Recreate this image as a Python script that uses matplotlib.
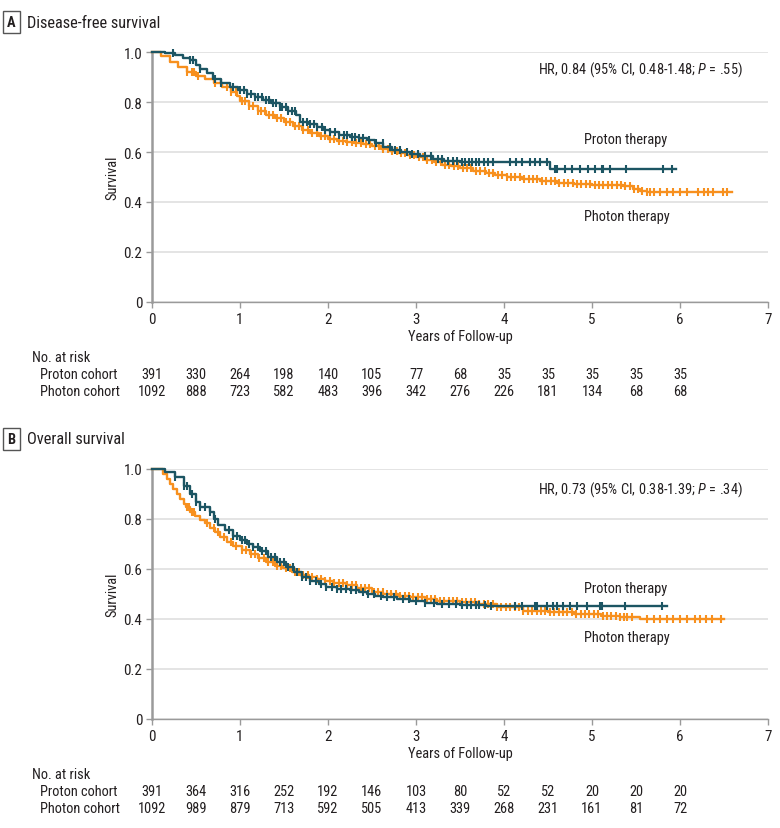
import numpy as np
import matplotlib
matplotlib.use("Agg")
import matplotlib.pyplot as plt
import matplotlib.font_manager as fm
from matplotlib import transforms

# ---------------- font choice (prefer a narrow sans) ----------------
_fonts = fm.fontManager.ttflist
_names = {f.name for f in _fonts}


def _is_cond(f):
    st = f.stretch
    if isinstance(st, (int, float)):
        return st < 500
    return str(st) in ('condensed', 'semi-condensed', 'extra-condensed', 'ultra-condensed')


FAMILY = None
STRETCH = 'normal'
SCALE = 1.0
for cand in ['Liberation Sans Narrow', 'Roboto Condensed', 'Open Sans Condensed',
             'Noto Sans Condensed', 'Arial Narrow', 'DejaVu Sans Condensed']:
    if cand in _names:
        FAMILY = cand
        break
if FAMILY is None:
    for cand in ['Noto Sans', 'Open Sans', 'Roboto', 'DejaVu Sans', 'Lato', 'Inter']:
        if any(f.name == cand and _is_cond(f) for f in _fonts):
            FAMILY = cand
            STRETCH = 'condensed'
            break
if FAMILY is None:
    FAMILY = 'Roboto' if 'Roboto' in _names else 'DejaVu Sans'
    SCALE = 0.9

plt.rcParams['font.family'] = [FAMILY, 'DejaVu Sans']
plt.rcParams['font.stretch'] = STRETCH
plt.rcParams['mathtext.fontset'] = 'custom'
plt.rcParams['mathtext.it'] = FAMILY + ':italic'
plt.rcParams['mathtext.rm'] = FAMILY

# ---------------- data ----------------
# Panel A: disease-free survival
t_proton_A = [0, 0.10, 0.15, 0.26, 0.35, 0.43, 0.50, 0.55, 0.62, 0.69, 0.78, 0.89, 0.98, 1.08, 1.17,
              1.26, 1.35, 1.45, 1.55, 1.64, 1.68, 1.78, 1.87, 1.95, 2.02, 2.12, 2.25, 2.35, 2.44, 2.53,
              2.63, 2.73, 2.83, 2.93, 3.05, 3.19, 3.32, 3.50, 3.70, 4.52, 5.96]
s_proton_A = [1.0, 1.0, 0.995, 0.987, 0.978, 0.967, 0.950, 0.933, 0.915, 0.893, 0.875, 0.860, 0.848, 0.833,
              0.822, 0.808, 0.795, 0.780, 0.765, 0.750, 0.722, 0.712, 0.700, 0.690, 0.680, 0.668, 0.660,
              0.655, 0.648, 0.635, 0.622, 0.610, 0.600, 0.593, 0.583, 0.573, 0.566, 0.560, 0.559, 0.532, 0.532]
c_proton_A = [0.24, 0.43, 0.47, 0.55, 0.72, 0.78, 0.92, 1.0, 1.04, 1.08, 1.12, 1.17, 1.2, 1.25, 1.3, 1.33,
              1.37, 1.41, 1.45, 1.48, 1.52, 1.55, 1.59, 1.62, 1.72, 1.76, 1.8, 1.84, 1.88, 1.93, 1.97,
              2.02, 2.08, 2.13, 2.18, 2.22, 2.27, 2.31, 2.35, 2.4, 2.47, 2.55, 2.62, 2.7, 2.76, 2.82, 2.9,
              2.95, 3.02, 3.1, 3.17, 3.25, 3.3, 3.36, 3.42, 3.47, 3.52, 3.56, 3.6, 3.64, 3.68, 3.72, 3.77,
              3.82, 3.88, 4.07, 4.14, 4.20, 4.30, 4.35, 4.41, 4.49, 4.58, 4.60, 4.69, 4.77, 4.86, 4.96,
              5.03, 5.11, 5.13, 5.20, 5.39, 5.81, 5.91]

t_photon_A = [0, 0.05, 0.10, 0.20, 0.30, 0.40, 0.50, 0.60, 0.70, 0.80, 0.90, 0.97, 1.00, 1.10, 1.20, 1.30,
              1.40, 1.50, 1.60, 1.70, 1.80, 1.90, 2.00, 2.10, 2.20, 2.30, 2.40, 2.50, 2.60, 2.70, 2.80,
              2.90, 3.00, 3.10, 3.20, 3.30, 3.40, 3.50, 3.65, 3.80, 3.90, 4.03, 4.20, 4.41, 4.60, 4.79,
              5.00, 5.17, 5.35, 5.47, 5.55, 5.62, 6.59]
s_photon_A = [1.0, 1.0, 0.985, 0.960, 0.940, 0.920, 0.905, 0.893, 0.878, 0.860, 0.840, 0.825, 0.805, 0.785,
              0.765, 0.750, 0.735, 0.722, 0.703, 0.690, 0.675, 0.665, 0.652, 0.645, 0.640, 0.635, 0.632,
              0.625, 0.612, 0.603, 0.595, 0.587, 0.579, 0.570, 0.562, 0.550, 0.543, 0.535, 0.525, 0.515,
              0.508, 0.499, 0.492, 0.485, 0.478, 0.472, 0.470, 0.468, 0.465, 0.452, 0.445, 0.439, 0.439]
c_photon_A = [0.40, 0.45, 0.48, 0.52, 0.72, 0.78, 0.85, 0.9, 0.95, 1.02, 1.06, 1.1, 1.15, 1.2, 1.24, 1.28,
              1.33, 1.38, 1.42, 1.47, 1.52, 1.57, 1.62, 1.67, 1.72, 1.77, 1.82, 1.87, 1.92, 1.97, 2.02,
              2.07, 2.12, 2.17, 2.22, 2.27, 2.32, 2.38, 2.43, 2.48, 2.53, 2.58, 2.63, 2.68, 2.73, 2.78,
              2.83, 2.88, 2.93, 2.98, 3.03, 3.08, 3.13, 3.18, 3.23, 3.28, 3.33, 3.38, 3.43, 3.48, 3.53,
              3.58, 3.63, 3.68, 3.73, 3.78, 3.83, 3.88, 3.93, 3.98, 4.03, 4.08, 4.13, 4.18, 4.23, 4.28,
              4.33, 4.38, 4.43, 4.48, 4.53, 4.58, 4.63, 4.68, 4.73, 4.78, 4.83, 4.88, 4.93, 4.98, 5.03,
              5.08, 5.13, 5.18, 5.23, 5.28, 5.33, 5.38, 5.43, 5.48, 5.52, 5.57, 5.62, 5.66, 5.70, 5.77,
              5.85, 5.92, 6.0, 6.08, 6.21, 6.27, 6.32, 6.38, 6.49, 6.53]

# Panel B: overall survival
t_proton_B = [0, 0.08, 0.15, 0.26, 0.36, 0.43, 0.50, 0.55, 0.66, 0.70, 0.75, 0.83, 0.92, 1.00, 1.08, 1.15,
              1.23, 1.32, 1.42, 1.52, 1.61, 1.70, 1.80, 1.90, 1.98, 2.10, 2.25, 2.35, 2.44, 2.53, 2.63,
              2.78, 2.93, 3.10, 3.24, 3.50, 3.80, 5.85]
s_proton_B = [1.0, 1.0, 0.987, 0.967, 0.933, 0.900, 0.870, 0.850, 0.830, 0.800, 0.778, 0.755, 0.733, 0.718,
              0.700, 0.688, 0.673, 0.650, 0.627, 0.607, 0.587, 0.570, 0.553, 0.540, 0.527, 0.522, 0.516,
              0.508, 0.500, 0.494, 0.487, 0.480, 0.473, 0.466, 0.460, 0.456, 0.453, 0.453]
c_proton_B = [0.26, 0.36, 0.4, 0.45, 0.5, 0.55, 0.6, 0.66, 0.72, 0.88, 0.92, 0.97, 1.02, 1.06, 1.1, 1.15,
              1.2, 1.25, 1.3, 1.35, 1.4, 1.45, 1.5, 1.55, 1.6, 1.65, 1.7, 1.75, 1.8, 1.86, 1.92, 1.98,
              2.05, 2.1, 2.15, 2.2, 2.26, 2.32, 2.4, 2.46, 2.52, 2.6, 2.67, 2.75, 2.85, 2.92, 3.0, 3.1,
              3.2, 3.3, 3.38, 3.45, 3.52, 3.58, 3.62, 3.68, 3.72, 3.78, 3.85, 4.125, 4.20, 4.35, 4.37,
              4.49, 4.56, 4.60, 4.67, 4.75, 4.83, 4.94, 5.09, 5.11, 5.375, 5.79]

t_photon_B = [0, 0.07, 0.13, 0.17, 0.20, 0.24, 0.28, 0.32, 0.36, 0.39, 0.43, 0.49, 0.55, 0.60, 0.66, 0.72,
              0.77, 0.85, 0.92, 1.02, 1.11, 1.20, 1.30, 1.40, 1.49, 1.59, 1.68, 1.78, 1.87, 1.97, 2.06,
              2.20, 2.33, 2.50, 2.63, 2.80, 2.93, 3.10, 3.24, 3.50, 3.70, 3.92, 4.22, 4.50, 4.79, 5.10,
              5.32, 5.55, 6.50]
s_photon_B = [1.0, 1.0, 0.980, 0.960, 0.940, 0.920, 0.900, 0.880, 0.860, 0.847, 0.830, 0.813, 0.795, 0.783,
              0.765, 0.747, 0.727, 0.707, 0.693, 0.676, 0.660, 0.643, 0.630, 0.613, 0.603, 0.587, 0.578,
              0.567, 0.562, 0.551, 0.545, 0.535, 0.525, 0.510, 0.500, 0.493, 0.487, 0.480, 0.473, 0.467,
              0.462, 0.447, 0.433, 0.427, 0.420, 0.413, 0.407, 0.400, 0.400]
c_photon_B = [0.40, 0.42, 0.45, 0.48, 0.62, 0.70, 0.75, 0.82, 0.9, 0.96, 1.02, 1.07, 1.12, 1.17, 1.22, 1.27,
              1.32, 1.37, 1.42, 1.47, 1.52, 1.57, 1.62, 1.67, 1.72, 1.77, 1.82, 1.87, 1.92, 1.97, 2.02,
              2.07, 2.12, 2.17, 2.22, 2.27, 2.32, 2.37, 2.42, 2.47, 2.52, 2.57, 2.62, 2.67, 2.72, 2.77,
              2.82, 2.87, 2.92, 2.97, 3.02, 3.07, 3.12, 3.17, 3.22, 3.27, 3.32, 3.37, 3.42, 3.47, 3.52,
              3.57, 3.62, 3.67, 3.72, 3.77, 3.82, 3.87, 3.92, 3.97, 4.02, 4.07, 4.12, 4.17, 4.22, 4.27,
              4.32, 4.37, 4.42, 4.47, 4.52, 4.57, 4.62, 4.67, 4.72, 4.77, 4.82, 4.87, 4.92, 4.97, 5.02,
              5.07, 5.12, 5.17, 5.22, 5.27, 5.32, 5.36, 5.40, 5.45, 5.62, 5.70, 5.77, 5.85, 5.92, 6.0,
              6.08, 6.17, 6.23, 6.30, 6.36, 6.47]

# numbers at risk
risk_times = [0, 0.5, 1, 1.5, 2, 2.5, 3, 3.5, 4, 4.5, 5, 5.5, 6]
risk_proton_A = [391, 330, 264, 198, 140, 105, 77, 68, 35, 35, 35, 35, 35]
risk_photon_A = [1092, 888, 723, 582, 483, 396, 342, 276, 226, 181, 134, 68, 68]
risk_proton_B = [391, 364, 316, 252, 192, 146, 103, 80, 52, 52, 20, 20, 20]
risk_photon_B = [1092, 989, 879, 713, 592, 505, 413, 339, 268, 231, 161, 81, 72]

x_ticks = [0, 1, 2, 3, 4, 5, 6, 7]
y_ticks = [0, 0.2, 0.4, 0.6, 0.8, 1.0]
y_ticklabels = ['0', '0.2', '0.4', '0.6', '0.8', '1.0']

# ---------------- style ----------------
C_PROTON = '#1c5563'
C_PHOTON = '#f7901e'
GRID = '#dcdcdc'
SPINE = '#9a9a9a'
TXT = '#231f20'
FS = 10.4 * SCALE        # general text
FS_TICK = 10.8 * SCALE   # tick labels
FS_HEAD = 11.8 * SCALE   # panel header

W, H = 780, 829
fig = plt.figure(figsize=(W / 100, H / 100), dpi=100)


def fy(y):
    return 1 - y / H


def fx(x):
    return x / W


def draw_km(ax, t, s, c, color, z):
    t = np.asarray(t); s = np.asarray(s); c = np.asarray(c)
    ax.step(t, s, where='post', color=color, lw=1.7, clip_on=False, zorder=z)
    idx = np.searchsorted(t, c, side='right') - 1
    ax.plot(c, s[idx], ls='none', marker='|', ms=6, mew=1.5, color=color,
            clip_on=False, zorder=z)


def panel(top_px, letter, title, data, hr_text, y_pro, y_pho, risk_pro, risk_pho):
    bottom_px = top_px + 250
    ax = fig.add_axes([fx(152), fy(bottom_px), 616 / W, 250 / H])
    ax.set_xlim(0, 7)
    ax.set_ylim(0, 1.0)
    ax.set_xticks(x_ticks)
    ax.set_yticks(y_ticks)
    ax.set_yticklabels(y_ticklabels)
    ax.yaxis.grid(True, color=GRID, lw=1.1)
    ax.set_axisbelow(True)
    for sp in ['top', 'right']:
        ax.spines[sp].set_visible(False)
    ax.spines['left'].set_color(SPINE)
    ax.spines['left'].set_linewidth(1.8)
    ax.spines['bottom'].set_color(SPINE)
    ax.spines['bottom'].set_linewidth(1.0)
    ax.tick_params(axis='both', direction='out', length=4, width=1, color=SPINE,
                   labelsize=FS_TICK, labelcolor=TXT, pad=3)
    (tp, sp_, cp), (tf, sf, cf) = data
    draw_km(ax, tf, sf, cf, C_PHOTON, 3)
    draw_km(ax, tp, sp_, cp, C_PROTON, 4)

    ax.text(6.716, hr_text[1], hr_text[0], ha='right', va='center', fontsize=FS, color=TXT)
    ax.text(4.91, y_pro, 'Proton therapy', ha='left', va='center', fontsize=FS, color=TXT)
    ax.text(4.91, y_pho, 'Photon therapy', ha='left', va='center', fontsize=FS, color=TXT)

    # panel header
    head_y = top_px - 30
    fig.text(fx(11.5), fy(head_y), letter, ha='center', va='center', fontsize=FS,
             fontweight='bold', color=TXT,
             bbox=dict(boxstyle='square,pad=0.3', fc='white', ec='#555555', lw=1.0))
    fig.text(fx(27), fy(head_y), title, ha='left', va='center', fontsize=FS_HEAD, color=TXT)

    # axis labels
    fig.text(fx(112), fy(top_px + 125), 'Survival', rotation=90, ha='center', va='center',
             fontsize=FS, color=TXT)
    fig.text(fx(460), fy(bottom_px + 34), 'Years of Follow-up', ha='center', va='center',
             fontsize=FS, color=TXT)

    # at-risk table
    tr = transforms.blended_transform_factory(ax.transData, fig.transFigure)
    fig.text(fx(32), fy(bottom_px + 55), 'No. at risk', ha='left', va='center', fontsize=FS, color=TXT)
    fig.text(fx(40), fy(bottom_px + 72), 'Proton cohort', ha='left', va='center', fontsize=FS, color=TXT)
    fig.text(fx(40), fy(bottom_px + 89), 'Photon cohort', ha='left', va='center', fontsize=FS, color=TXT)
    for t, n in zip(risk_times, risk_pro):
        ax.text(t, fy(bottom_px + 72), str(n), transform=tr, ha='center', va='center',
                fontsize=FS, color=TXT, clip_on=False)
    for t, n in zip(risk_times, risk_pho):
        ax.text(t, fy(bottom_px + 89), str(n), transform=tr, ha='center', va='center',
                fontsize=FS, color=TXT, clip_on=False)
    return ax


panel(53, 'A', 'Disease-free survival',
      ((t_proton_A, s_proton_A, c_proton_A), (t_photon_A, s_photon_A, c_photon_A)),
      ('HR, 0.84 (95% CI, 0.48-1.48; $\\it{P}$ = .55)', 0.932), 0.652, 0.345,
      risk_proton_A, risk_photon_A)

panel(470, 'B', 'Overall survival',
      ((t_proton_B, s_proton_B, c_proton_B), (t_photon_B, s_photon_B, c_photon_B)),
      ('HR, 0.73 (95% CI, 0.38-1.39; $\\it{P}$ = .34)', 0.923), 0.523, 0.327,
      risk_proton_B, risk_photon_B)

fig.savefig('out.png', dpi=100, facecolor='white')
